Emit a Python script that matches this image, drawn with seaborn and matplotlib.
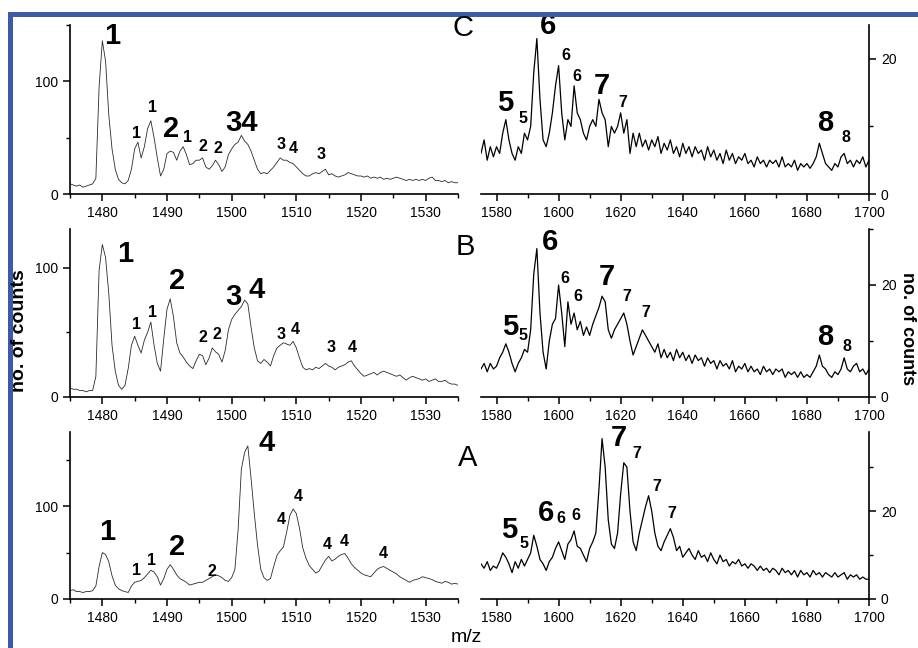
import numpy as np
import pandas as pd
import matplotlib
matplotlib.use("Agg")
import matplotlib.pyplot as plt
from matplotlib.ticker import MultipleLocator
from matplotlib.patches import Rectangle
import seaborn as sns

# ---------------- data ----------------
mz_left = np.arange(1475, 1535.01, 0.5)
mz_right = np.arange(1575, 1700.01, 1.0)

C_left = [9, 8, 7, 8, 6, 7, 8, 9, 14, 95,
          136, 118, 70, 40, 22, 13, 10, 9, 12, 22,
          40, 46, 32, 42, 58, 65, 50, 32, 16, 22,
          36, 38, 37, 30, 38, 42, 35, 26, 27, 30,
          30, 32, 24, 22, 25, 30, 26, 20, 24, 35,
          40, 44, 46, 52, 47, 44, 38, 30, 22, 18,
          19, 18, 21, 24, 28, 32, 30, 30, 28, 27,
          24, 21, 18, 16, 16, 18, 19, 18, 20, 22,
          17, 18, 16, 15, 16, 17, 19, 18, 17, 16,
          16, 15, 16, 14, 15, 14, 15, 13, 14, 13,
          14, 15, 14, 13, 12, 13, 12, 13, 12, 13,
          12, 14, 15, 12, 12, 11, 12, 10, 11, 10,
          10]
B_left = [7, 6, 6, 5, 5, 4, 5, 5, 16, 98,
          118, 108, 80, 40, 20, 9, 6, 9, 22, 40,
          47, 40, 34, 44, 50, 58, 40, 26, 20, 45,
          68, 76, 62, 42, 34, 31, 27, 24, 22, 28,
          33, 32, 25, 30, 38, 35, 33, 27, 36, 52,
          60, 64, 67, 70, 75, 72, 54, 38, 28, 26,
          29, 27, 24, 32, 38, 40, 42, 41, 40, 43,
          38, 30, 23, 21, 22, 21, 23, 22, 24, 26,
          24, 23, 21, 23, 24, 25, 27, 28, 24, 21,
          18, 16, 17, 18, 19, 17, 19, 20, 19, 18,
          17, 16, 17, 15, 13, 15, 16, 15, 14, 13,
          14, 12, 13, 14, 12, 12, 13, 11, 10, 10,
          9]
A_left = [9, 10, 8, 8, 7, 8, 8, 9, 14, 35,
          50, 48, 40, 25, 15, 11, 9, 8, 7, 14,
          18, 19, 20, 23, 27, 31, 29, 24, 15, 22,
          32, 37, 32, 26, 22, 20, 18, 15, 16, 17,
          18, 18, 20, 22, 24, 26, 25, 23, 20, 19,
          23, 32, 75, 140, 158, 165, 130, 92, 58, 32,
          23, 20, 22, 35, 47, 52, 56, 72, 90, 97,
          92, 76, 55, 44, 36, 32, 28, 30, 36, 42,
          46, 41, 43, 46, 48, 49, 44, 38, 34, 31,
          28, 26, 25, 24, 28, 32, 34, 35, 33, 31,
          29, 27, 24, 22, 20, 18, 20, 21, 22, 24,
          23, 22, 21, 19, 18, 17, 19, 18, 16, 17,
          16]

C_right = [6, 8, 5, 7, 5.5, 7, 6, 9, 11, 8,
           6, 5, 7, 6, 9, 8, 10, 18, 23, 14,
           8, 7, 9, 12, 16, 19, 12, 8, 11, 10,
           16, 12, 11, 9, 8, 10, 11, 10, 14, 12,
           11, 7, 10, 9, 10, 12, 9, 11, 6, 9,
           7, 9, 7, 8, 6.5, 8, 7, 8.5, 6, 7.5,
           6.5, 8, 6, 7, 5.5, 7.5, 6, 7, 5.5, 7,
           6, 6.5, 5, 7, 5.5, 6.5, 5, 6, 4.5, 6.5,
           5, 6, 4.5, 5.5, 5, 6, 4.5, 5, 4, 5.5,
           4.5, 5, 4, 5, 4.5, 5, 4, 5.5, 4, 4.5,
           4, 5, 3.5, 4.5, 4, 4.5, 3.8, 4.5, 5.5, 7.5,
           6, 4.5, 4, 3.5, 4.5, 4, 5.5, 6, 4.5, 5,
           4, 5, 4.5, 5.5, 4, 5]
B_right = [5, 6, 4.5, 6, 5, 5.5, 7, 8, 9.5, 8,
           6, 4.5, 6, 7, 8.5, 8, 12, 22, 26.5, 15,
           8, 5, 10, 13, 14, 20, 15, 9, 17, 13,
           15, 12, 13.5, 11, 12.5, 11, 13, 14.5, 16, 18,
           17, 12, 10.5, 12, 13, 14, 15, 13, 10, 7.5,
           9, 10.5, 12, 11, 10, 9, 8, 9.5, 7, 8.5,
           7, 8, 6.5, 8.5, 7, 8, 6.5, 7.5, 6, 7.5,
           6.5, 7, 5.5, 7, 6, 6.5, 5, 6.5, 5.5, 6,
           5, 6.5, 4.5, 5.5, 5, 6, 4.5, 5.5, 4.5, 5,
           4, 5.5, 4.5, 5, 4, 5, 4.5, 5, 3.5, 4.5,
           4, 4.5, 3.5, 4.5, 3.5, 4, 3.5, 4.5, 5.5, 7.5,
           5.5, 5, 4, 3.5, 4.5, 4, 5, 7, 5, 4.5,
           5.5, 6, 4.5, 5, 4, 5]
A_right = [8, 7, 8.5, 6.5, 7.5, 7, 8.5, 10.5, 9.5, 8,
           6, 8.5, 7, 9, 7.5, 9, 10.5, 14.5, 12, 9,
           8, 6.5, 8.5, 9.5, 11.5, 13, 11, 9, 12.5, 13.5,
           15.5, 12, 11.5, 10, 8.5, 11.5, 13, 15, 25, 36.5,
           30, 18, 12.5, 11.5, 15, 24, 31, 30, 20, 13,
           11, 15, 18, 21, 23.5, 20, 15, 12, 11, 13,
           14.5, 16, 14, 11, 12, 9.5, 10.5, 11.5, 10, 9,
           11, 9.5, 10, 8.5, 10.5, 9, 8, 10, 8.5, 9,
           7.5, 8.5, 8, 9, 7.5, 8, 7, 8, 7.5, 6.5,
           7.5, 6.5, 7, 6, 7, 6.5, 5.5, 7, 6, 6.5,
           5.5, 6.5, 5, 6.5, 5.5, 6, 5, 6.5, 5.5, 6,
           5, 6, 5.5, 5, 6, 5, 5.5, 6, 4.5, 5.5,
           5, 5.5, 4.5, 5, 4.5, 4.5]

panel_names = ["C", "B", "A"]
left_series = {"C": C_left, "B": B_left, "A": A_left}
right_series = {"C": C_right, "B": B_right, "A": A_right}
left_ylim = {"C": 150, "B": 130, "A": 180}
right_ylim = {"C": 25, "B": 30, "A": 38}

# peak annotations: (x, y, text, big?)
left_labels = {
    "C": [(1481.6, 140, "1", True), (1485.3, 54, "1", False), (1487.8, 77, "1", False),
          (1490.7, 58, "2", True), (1493.2, 50, "1", False), (1495.5, 42, "2", False),
          (1497.9, 40, "2", False), (1501.5, 63, "34", True), (1507.6, 44, "3", False),
          (1509.6, 40, "4", False), (1513.9, 35, "3", False)],
    "B": [(1483.5, 111, "1", True), (1485.3, 56, "1", False), (1487.8, 65, "1", False),
          (1491.5, 90, "2", True), (1495.5, 46, "2", False), (1497.7, 48, "2", False),
          (1500.2, 77, "3", True), (1503.8, 83, "4", True), (1507.7, 48, "3", False),
          (1509.9, 52, "4", False), (1515.3, 38, "3", False), (1518.7, 38, "4", False)],
    "A": [(1480.7, 72, "1", True), (1485.3, 31, "1", False), (1487.6, 41, "1", False),
          (1491.5, 56, "2", True), (1496.9, 30, "2", False), (1505.4, 168, "4", True),
          (1507.7, 86, "4", False), (1510.3, 110, "4", False), (1514.8, 59, "4", False),
          (1517.4, 62, "4", False), (1523.5, 49, "4", False)],
}
right_labels = {
    "C": [(1582.7, 13.5, "5", True), (1588.5, 11.2, "5", False), (1596.6, 24.8, "6", True),
          (1602.4, 20.5, "6", False), (1605.9, 17.4, "6", False), (1614.0, 16.0, "7", True),
          (1620.7, 13.5, "7", False), (1686.0, 10.5, "8", True), (1692.6, 8.4, "8", False)],
    "B": [(1584.3, 12.5, "5", True), (1588.5, 11.0, "5", False), (1597.2, 27.7, "6", True),
          (1602.0, 21.2, "6", False), (1606.2, 17.9, "6", False), (1615.6, 21.4, "7", True),
          (1622.0, 17.9, "7", False), (1628.2, 15.0, "7", False), (1685.8, 10.7, "8", True),
          (1692.9, 9.1, "8", False)],
    "A": [(1584.0, 15.7, "5", True), (1588.9, 12.7, "5", False), (1596.0, 19.5, "6", True),
          (1600.8, 18.4, "6", False), (1605.6, 18.9, "6", False), (1619.5, 36.6, "7", True),
          (1625.3, 33.2, "7", False), (1631.7, 25.7, "7", False), (1636.5, 19.5, "7", False)],
}

# ---------------- style ----------------
sns.set_style("ticks")
plt.rcParams["font.family"] = ["Liberation Sans", "DejaVu Sans"]
plt.rcParams["text.color"] = "black"
plt.rcParams["xtick.direction"] = "out"
plt.rcParams["ytick.direction"] = "out"

W, H = 918, 648
fig = plt.figure(figsize=(W / 100, H / 100), dpi=100)
fig.patch.set_facecolor("white")

def fx(px):
    return px / W

def fy(py):
    return 1 - py / H

rows = {"C": (25, 194), "B": (229, 397), "A": (432, 599)}
left_x = (70, 458)
right_x = (481, 869)

for name in panel_names:
    top, bot = rows[name]
    axL = fig.add_axes([fx(left_x[0]), fy(bot), (left_x[1] - left_x[0]) / W, (bot - top) / H])
    axR = fig.add_axes([fx(right_x[0]), fy(bot), (right_x[1] - right_x[0]) / W, (bot - top) / H])

    dfl = pd.DataFrame({"mz": mz_left, "counts": left_series[name]})
    dfr = pd.DataFrame({"mz": mz_right, "counts": right_series[name]})
    sns.lineplot(data=dfl, x="mz", y="counts", ax=axL, color="#2a2a2a", linewidth=0.6)
    sns.lineplot(data=dfr, x="mz", y="counts", ax=axR, color="black", linewidth=0.9)

    axL.set_xlim(1475, 1535)
    axL.set_ylim(0, left_ylim[name])
    axR.set_xlim(1575, 1700)
    axR.set_ylim(0, right_ylim[name])

    for ax in (axL, axR):
        ax.set_xlabel("")
        ax.set_ylabel("")
        ax.spines["top"].set_visible(False)
        ax.tick_params(which="major", length=5, width=1.1, labelsize=10, colors="black")
        ax.tick_params(which="minor", length=3, width=1.0, colors="black")
        for s in ax.spines.values():
            s.set_linewidth(1.2)
            s.set_color("black")

    axL.spines["right"].set_visible(False)
    axR.spines["left"].set_visible(False)
    axR.yaxis.tick_right()
    axR.yaxis.set_label_position("right")

    axL.xaxis.set_major_locator(MultipleLocator(10))
    axL.xaxis.set_minor_locator(MultipleLocator(5))
    axL.yaxis.set_major_locator(MultipleLocator(100))
    axL.yaxis.set_minor_locator(MultipleLocator(50))
    axR.xaxis.set_major_locator(MultipleLocator(20))
    axR.xaxis.set_minor_locator(MultipleLocator(10))
    axR.yaxis.set_major_locator(MultipleLocator(20))
    axR.yaxis.set_minor_locator(MultipleLocator(10))

    for (x, y, t, big) in left_labels[name]:
        axL.text(x, y, t, ha="center", va="center", fontweight="bold", color="black",
                 fontsize=21 if big else 11.5, clip_on=False)
    for (x, y, t, big) in right_labels[name]:
        axR.text(x, y, t, ha="center", va="center", fontweight="bold", color="black",
                 fontsize=21 if big else 11.5, clip_on=False)

# panel letters
letter_pos = {"C": (463, 28), "B": (465, 247), "A": (468, 458)}
for name, (px, py) in letter_pos.items():
    fig.text(fx(px), fy(py), name, ha="center", va="center", fontsize=21, color="black")

# axis titles
fig.text(fx(20), fy(331), "no. of counts", rotation=90, ha="center", va="center",
         fontsize=14, fontweight="bold", color="black")
fig.text(fx(916), fy(272), "no. of counts", rotation=-90, ha="right", va="top",
         fontsize=13, fontweight="bold", color="black")
fig.text(fx(466), fy(646), "m/z", ha="center", va="bottom", fontsize=14, color="black")

# blue frame (cropped at right and bottom)
blue = "#3c5aa8"
fig.add_artist(Rectangle((fx(8), fy(17)), 1 - fx(8), 5 / H, transform=fig.transFigure,
                         facecolor=blue, edgecolor="none"))
fig.add_artist(Rectangle((fx(8), 0), 5 / W, fy(12), transform=fig.transFigure,
                         facecolor=blue, edgecolor="none"))

fig.savefig("out.png", dpi=100)
